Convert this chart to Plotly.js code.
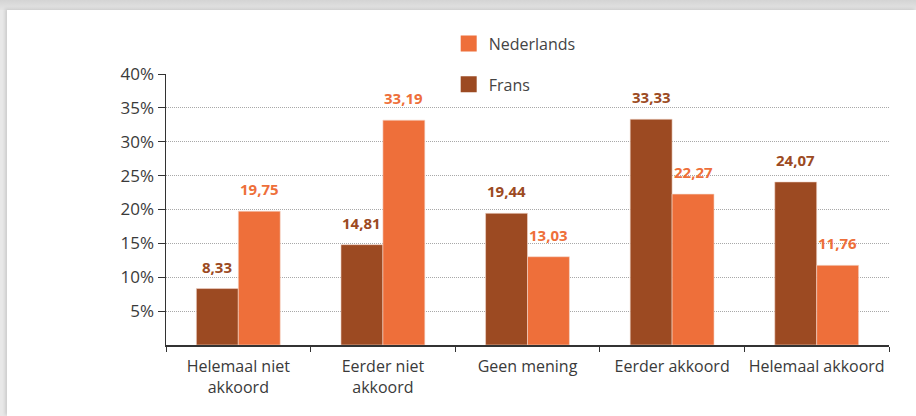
<!DOCTYPE html>
<html><head><meta charset="utf-8">
<script src="https://cdn.plot.ly/plotly-3.0.1.min.js"></script>
<style>
html,body{margin:0;padding:0;width:916px;height:416px;overflow:hidden;
 background:linear-gradient(to bottom,#d4d4d4 0px,#e4e4e4 10px,#e8e8e8 10px);}
#chart{position:absolute;left:7px;top:10px;width:909px;height:406px;background:#fff;
 box-shadow:-2px -1px 3px rgba(0,0,0,0.12);}
</style></head>
<body><div id="chart"></div>
<script>
const categories = ["Helemaal niet<br>akkoord","Eerder niet<br>akkoord","Geen mening","Eerder akkoord","Helemaal akkoord"];
const frans = [8.33, 14.81, 19.44, 33.33, 24.07];
const nederlands = [19.75, 33.19, 13.03, 22.27, 11.76];
const yTickVals = [5,10,15,20,25,30,35,40];
const yTickText = ["5%","10%","15%","20%","25%","30%","35%","40%"];

const cFrans = "#9c4a22", cNl = "#ee6f3a";
const fmt = v => v.toFixed(2).replace(".", ",");

const traces = [
  {type:"bar", name:"Frans", x:categories, y:frans, marker:{color:cFrans, line:{color:"#f3d9cc", width:0.6}}, showlegend:false, hoverinfo:"none"},
  {type:"bar", name:"Nederlands", x:categories, y:nederlands, marker:{color:cNl, line:{color:"#f3d9cc", width:0.6}}, showlegend:false, hoverinfo:"none"},
  {type:"scatter", mode:"markers", name:"Nederlands", x:[null], y:[null], marker:{symbol:"square", size:22, color:cNl}, legendgroup:"a", legendrank:1},
  {type:"scatter", mode:"markers", name:"Frans", x:[null], y:[null], marker:{symbol:"square", size:22, color:cFrans}, legendgroup:"b", legendrank:2}
];

const annotations = [];
categories.forEach((c,i)=>{
  annotations.push({x:c, y:frans[i], xref:"x", yref:"y", text:fmt(frans[i]), showarrow:false,
    xshift:-21, yshift:10, yanchor:"bottom", font:{family:"Open Sans", size:15, color:cFrans, weight:"bold"}});
  annotations.push({x:c, y:nederlands[i], xref:"x", yref:"y", text:fmt(nederlands[i]), showarrow:false,
    xshift:21, yshift:10, yanchor:"bottom", font:{family:"Open Sans", size:15, color:cNl, weight:"bold"}});
});

const layout = {
  width:909, height:406,
  margin:{l:159, r:27, t:64, b:71, autoexpand:false},
  paper_bgcolor:"#fff", plot_bgcolor:"#fff",
  barmode:"group", bargap:0.42, bargroupgap:0,
  font:{family:"Open Sans", color:"#333"},
  xaxis:{type:"category", tickson:"boundaries", ticks:"outside", ticklen:5, tickcolor:"#333", tickangle:0,
    ticklabelstandoff:6,
    showline:true, linecolor:"#333", linewidth:1.5, showgrid:false, automargin:false,
    tickfont:{family:"Open Sans", size:16, color:"#3a3a3a"}, fixedrange:true},
  yaxis:{range:[0,40], tickvals:yTickVals, ticktext:yTickText, ticks:"outside", ticklen:7, tickcolor:"#333",
    showline:true, linecolor:"#333", linewidth:1.5, showgrid:true, gridcolor:"#a8a8a8", griddash:"1px,1px", gridwidth:1,
    zeroline:false, automargin:false, tickfont:{family:"Open Sans", size:17, color:"#3a3a3a"}, fixedrange:true},
  legend:{x:0.391, y:1.175, xanchor:"left", yanchor:"top", bgcolor:"#fff", traceorder:"grouped",
    tracegroupgap:17, font:{family:"Open Sans", size:16, color:"#444"}, itemwidth:30},
  annotations:annotations
};
Plotly.newPlot("chart", traces, layout, {displayModeBar:false, staticPlot:true});
</script></body></html>
